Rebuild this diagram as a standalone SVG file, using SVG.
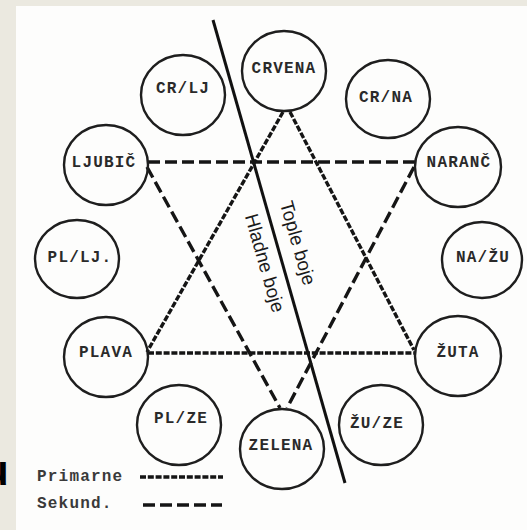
<svg xmlns="http://www.w3.org/2000/svg" width="527" height="530" viewBox="0 0 527 530">
  <style>
    .node ellipse { fill: none; stroke: #1e1e1e; stroke-width: 2.4; }
    .node text, .legend text { font-family: "Liberation Mono", "Courier New", monospace; font-weight: bold; font-size: 16px; letter-spacing: 1.2px; fill: #2a2a2a; text-anchor: middle; }
    .legend text { text-anchor: start; fill: #3a3a3a; }
    .prim { stroke: #151515; stroke-width: 3.4; stroke-dasharray: 6 1.8; fill: none; }
    .sek { stroke: #151515; stroke-width: 3.4; stroke-dasharray: 12 5; fill: none; }
    .divider { stroke: #111; stroke-width: 3; }
    .rot { font-family: "Liberation Sans", Arial, sans-serif; font-size: 19px; fill: #1a1a1a; text-anchor: middle; }
  </style>
  <rect x="0" y="0" width="527" height="530" fill="#ebe9e0"/>
  <rect x="16" y="6" width="511" height="524" fill="#fdfdfc"/>
  <text x="-17" y="485" font-family="Liberation Sans, Arial, sans-serif" font-weight="bold" font-size="42" fill="#000">u</text>

  <g id="connectors">
    <line class="divider" x1="213" y1="20" x2="345" y2="483"/>
    <line class="prim" x1="283" y1="112" x2="147" y2="352"/>
    <line class="prim" x1="290" y1="112" x2="414" y2="350"/>
    <line class="prim" x1="148" y1="353" x2="415" y2="353"/>
    <line class="sek" x1="148" y1="162" x2="415" y2="162"/>
    <line class="sek" x1="147" y1="167" x2="280" y2="408"/>
    <line class="sek" x1="414" y1="167" x2="287" y2="408"/>
    <text class="rot" transform="translate(298,243) rotate(74)" dy="0.35em">Tople boje</text>
    <text class="rot" transform="translate(265,263) rotate(74)" dy="0.35em">Hladne boje</text>
  </g>

  <g id="crvena" class="node"><ellipse cx="284" cy="71" rx="42" ry="40"/><text x="284" y="73">CRVENA</text></g>
  <g id="cr-lj" class="node"><ellipse cx="183" cy="95" rx="42" ry="40"/><text x="183" y="93">CR/LJ</text></g>
  <g id="cr-na" class="node"><ellipse cx="388" cy="99" rx="42" ry="39"/><text x="386" y="102">CR/NA</text></g>
  <g id="ljubic" class="node"><ellipse cx="106" cy="165" rx="42" ry="40"/><text x="104" y="167">LJUBIČ</text></g>
  <g id="naranc" class="node"><ellipse cx="458" cy="167" rx="43" ry="40"/><text x="459" y="167">NARANČ</text></g>
  <g id="pl-lj" class="node"><ellipse cx="77" cy="259" rx="42" ry="39"/><text x="80" y="262">PL/LJ.</text></g>
  <g id="na-zu" class="node"><ellipse cx="482" cy="260" rx="40" ry="38"/><text x="483" y="262">NA/ŽU</text></g>
  <g id="plava" class="node"><ellipse cx="106" cy="357" rx="42" ry="40"/><text x="106" y="357">PLAVA</text></g>
  <g id="zuta" class="node"><ellipse cx="458" cy="356" rx="43" ry="40"/><text x="458" y="357">ŽUTA</text></g>
  <g id="pl-ze" class="node"><ellipse cx="179" cy="425" rx="42" ry="40"/><text x="181" y="423">PL/ZE</text></g>
  <g id="zelena" class="node"><ellipse cx="282" cy="449" rx="42" ry="40"/><text x="281" y="450">ZELENA</text></g>
  <g id="zu-ze" class="node"><ellipse cx="381" cy="425" rx="42" ry="40"/><text x="377" y="428">ŽU/ZE</text></g>

  <g id="legend" class="legend">
    <text x="37" y="481">Primarne</text>
    <text x="37" y="508">Sekund.</text>
    <line class="prim" x1="140" y1="477" x2="223" y2="477"/>
    <line class="sek" x1="143" y1="505" x2="222" y2="505"/>
  </g>
</svg>
